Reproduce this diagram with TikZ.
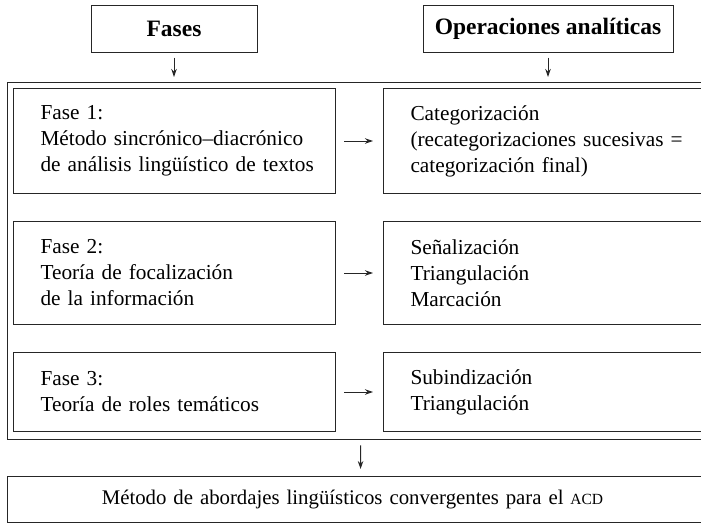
\documentclass[tikz,border=0pt]{standalone}
\usepackage{fontspec}
\setmainfont{Liberation Serif}
\usetikzlibrary{arrows.meta,positioning}

\newcommand{\bodysize}{\fontsize{21.3}{26}\selectfont}
\newcommand{\headsize}{\fontsize{23.5}{26}\selectfont}
\newcommand{\siglas}[1]{{\fontsize{15.5}{26}\selectfont #1}}

\tikzset{
  headbox/.style={draw=black!85,line width=1pt,font=\bfseries\headsize,minimum height=47,inner sep=0},
  phasebox/.style={draw=black!85,line width=1pt,anchor=north west,text width=322,inner sep=0,align=left,font=\bodysize,
    execute at begin node={\leftskip=27pt\rightskip=-15pt plus 1fil}},
  opbox/.style={phasebox,text width=337},
  frame/.style={draw=black!85,line width=1.3pt,anchor=north west,inner sep=0},
  flow/.style={-{Stealth[length=8pt,width=5.5pt]},line width=1pt,black!85}
}

\begin{document}
\begin{tikzpicture}[x=1pt,y=-1pt]
  \useasboundingbox (0,0) rectangle (701,525);
  \clip (0,0) rectangle (701,525);

  % encabezados
  \path (174,28.5) node[headbox,minimum width=166] (fases) {Fases};
  \path (548,28.5) node[headbox,minimum width=250] (ops) {Operaciones analíticas};

  % marco exterior
  \path (7,82) node[frame,minimum width=706,minimum height=357] (marco) {};

  % fases
  \path (13,88) node[phasebox,minimum height=105] (fase1)
    {Fase 1:\\Método sincrónico--diacrónico\\de análisis lingüístico de textos};
  \path (13,221) node[phasebox,minimum height=103] (fase2)
    {Fase 2:\\Teoría de focalización\\de la información};
  \path (13,352) node[phasebox,minimum height=79] (fase3)
    {Fase 3:\\Teoría de roles temáticos};

  % operaciones
  \path (383,88) node[opbox,minimum height=105] (op1)
    {Categorización\\(recategorizaciones sucesivas =\\categorización final)};
  \path (383,221) node[opbox,minimum height=103] (op2)
    {Señalización\\Triangulación\\Marcación};
  \path (383,352) node[opbox,minimum height=79] (op3)
    {Subindización\\Triangulación};

  % metodo
  \path (7,476) node[frame,line width=1pt,minimum height=46,text width=706,align=center,font=\fontsize{20.8}{26}\selectfont,
      execute at begin node={\advance\rightskip by 16pt}] (metodo)
    {Método de abordajes lingüísticos convergentes para el \siglas{ACD}};

  \draw[flow,shorten <=5pt,shorten >=5pt] (fases.south) -- (fases.south |- marco.north);
  \draw[flow,shorten <=5pt,shorten >=5pt] (ops.south) -- (ops.south |- marco.north);
  \foreach \i in {1,2,3}
    \draw[flow,shorten <=8pt,shorten >=10pt] (fase\i.east) -- (op\i.west);
  \draw[flow,shorten <=5pt,shorten >=7pt] (marco.south) -- (metodo.north);
\end{tikzpicture}
\end{document}
